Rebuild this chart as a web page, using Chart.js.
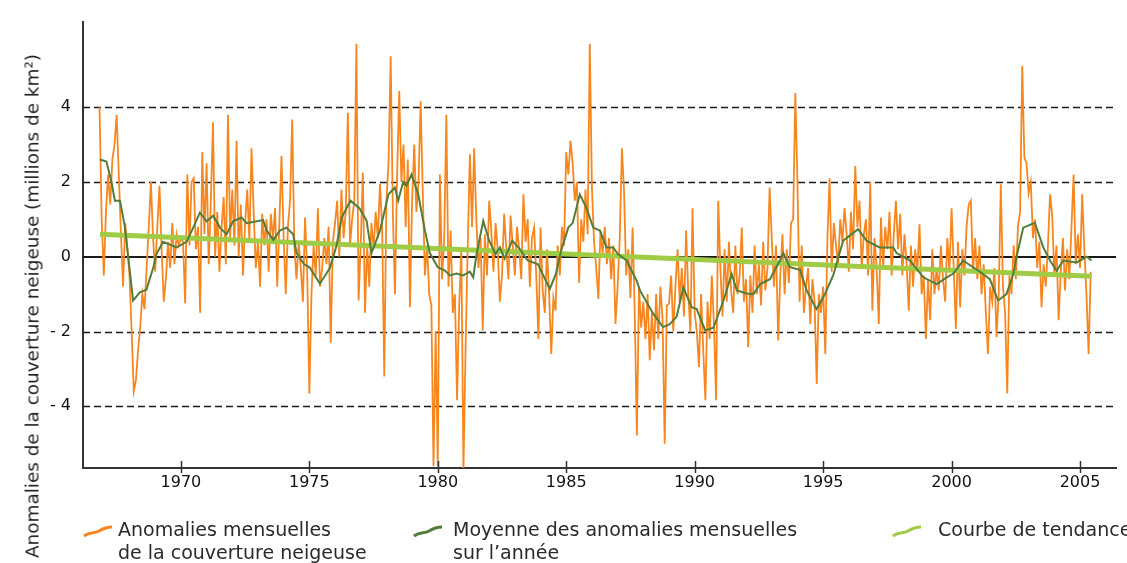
<!DOCTYPE html>
<html lang="fr">
<head>
<meta charset="utf-8">
<title>Anomalies de la couverture neigeuse</title>
<script src="https://cdn.jsdelivr.net/npm/chart.js@4.4.0/dist/chart.umd.min.js"></script>
<style>
  html, body { margin: 0; padding: 0; background: #fff; }
  #wrap { position: relative; width: 1127px; height: 563px; font-family: "DejaVu Sans", Verdana, sans-serif; color: #2a2a2a; }
  #chart { position: absolute; left: 0; top: 0; }
  #ytitle { position: absolute; left: 32px; top: 306px; transform: translate(-50%, -50%) rotate(-90deg); white-space: nowrap; font-size: 18.4px; color: #222; }
  .leg { position: absolute; top: 518px; font-size: 19px; line-height: 23px; white-space: nowrap; }
  .leg svg { position: absolute; top: 7px; }
</style>
</head>
<body>
<div id="wrap">
  <canvas id="chart" width="1127" height="563"></canvas>
  <div id="ytitle">Anomalies de la couverture neigeuse (millions de km²)</div>
  <div class="leg" style="left:118px">
    <svg width="30" height="13" style="left:-35px"><path d="M1,11 C7,6 11,9 16,6 S24,2 29,2" fill="none" stroke="#f7861f" stroke-width="3"/></svg>
    Anomalies mensuelles<br>de la couverture neigeuse</div>
  <div class="leg" style="left:453px">
    <svg width="30" height="13" style="left:-40px"><path d="M1,11 C7,6 11,9 16,6 S24,2 29,2" fill="none" stroke="#527d3a" stroke-width="3"/></svg>
    Moyenne des anomalies mensuelles<br>sur l’année</div>
  <div class="leg" style="left:938px">
    <svg width="30" height="13" style="left:-46px"><path d="M1,11 C7,6 11,9 16,6 S24,2 29,2" fill="none" stroke="#9fcb45" stroke-width="3"/></svg>
    Courbe de tendance</div>
</div>
<script>
// anomalies mensuelles, de novembre 1966 à juin 2005 (millions de km²)
const startYear = 1966;
const startMonth = 10; // 0 = janvier
const anom1966to1969 = [
  4.0, 1.0,
  -0.5, 1.2, 2.2, 1.4, 2.6, 3.0, 3.8, 2.2, 0.6, -0.8, 0.9, 0.2,
  -0.5, -2.0, -3.6, -3.3, -2.5, -1.9, -1.0, -1.4, -0.3, 0.8, 2.0, 0.5,
  -0.4, 0.8, 1.9, 0.2, -1.2, -0.6, 0.4, -0.3, 0.9, -0.2, 0.6, 0.3
];
const anom1970s = [
  0.5, 0.4, -1.25, 2.2, 0.3, 2.0, 2.1, 0.2, 0.8, -1.5, 2.8, 0.6,
  2.5, -0.2, 1.5, 3.6, 0.0, 1.2, -0.4, 0.8, 1.6, -0.2, 3.8, 0.5,
  1.8, 0.3, 3.1, 0.0, 1.4, -0.5, 0.9, 1.8, 0.4, 2.9, 1.2, -0.3,
  0.4, -0.8, 1.15, 0.3, 1.0, -0.4, 1.15, 0.5, 1.3, -0.8, 0.9, 2.7,
  0.5, -1.0, 0.8, 1.5, 3.67, 0.3, -0.6, 0.4, -0.3, -1.2, 1.05, -0.4,
  -3.66, -1.0, 0.3, -0.5, 1.3, -0.8, -0.3, 0.5, -0.2, 0.8, -2.3, 0.4,
  0.9, 1.5, 0.0, 1.8, 0.5, 1.2, 3.85, 0.3, 1.0, 1.5, 5.7, -1.17,
  0.3, 2.25, -1.5, 0.3, -0.8, 0.9, 0.2, 1.2, 0.5, 1.95, 0.8, -3.2,
  1.5, 2.5, 5.36, 1.2, -1.0, 2.2, 4.43, 2.0, 3.0, 0.8, 2.6, -1.35,
  1.5, 3.0, 1.2, 2.0, 4.16, 1.7, -0.5, 0.3, -1.0, -1.3, -5.6, -2.0
];
const anom1980s = [
  -5.6, 2.2, -0.6, 0.5, 3.8, -0.8, 0.7, -1.5, -1.0, -3.84, -1.3, 0.2,
  -5.7, -2.4, 0.3, 2.74, 0.8, 2.9, 1.0, -0.3, 0.5, -1.97, 0.6, -0.5,
  1.5, 0.7, -0.4, 0.9, 0.2, -1.2, -0.5, 1.15, 0.2, -0.6, 1.1, 0.3,
  -0.5, 0.8, 0.2, -0.6, 1.67, 0.4, 1.0, -0.8, 0.5, 0.78, -0.5, -2.2,
  0.78, -0.9, -1.5, 0.2, -1.0, -2.6, -1.1, -1.44, 0.3, -0.5, 0.8, 0.3,
  2.8, 2.2, 3.1, 2.5, 1.5, 2.0, -0.7, 1.0, 0.4, 1.8, 0.6, 5.7,
  1.85, 0.4, -0.3, -1.13, 0.7, 0.1, 0.8, -0.2, 0.5, -0.6, 0.3, -1.8,
  -0.8, 0.5, 2.9, 1.76, -0.5, 0.2, -1.1, 0.78, -1.5, -4.78, -0.8, -1.9,
  -1.2, -2.2, -1.0, -2.77, -1.5, -2.5, -1.0, -2.2, -0.8, -1.7, -5.0, -1.3,
  -1.26, -0.5, -2.0, -0.8, 0.2, -1.2, -0.3, -1.6, 0.7, -1.0, -2.0, 1.3
];
const anom1990s = [
  -1.5, -2.0, -2.95, -1.0, -2.5, -3.84, -1.2, -2.2, -0.5, -1.8, -3.84, 1.5,
  -0.3, -1.6, 0.2, -1.2, 0.4, -0.9, -1.5, 0.3, -1.0, -0.5, 0.78, -1.2,
  -0.6, -2.42, -0.5, -1.5, 0.3, -1.0, -0.2, -1.3, 0.4, -0.9, -0.3, 1.85,
  0.5, -0.8, 0.3, -2.24, -0.5, 0.6, -1.0, 0.2, -0.7, 0.9, 1.0, 4.38,
  2.0, -1.2, 0.3, -1.5, -0.8, -0.3, -1.8, -0.6, -1.2, -3.4, -1.0, -1.5,
  -0.8, -2.6, 0.5, 2.1, -0.4, 0.9, 0.3, -0.2, 1.0, 0.4, 1.3, 0.6,
  -0.4, 1.2, 0.2, 2.43, 0.8, 1.5, -0.3, 0.6, 1.0, -0.5, 2.0, -1.44,
  0.5, -0.3, -1.8, 1.05, -0.3, 0.8, 0.2, 1.2, -0.5, 0.6, 1.5, 0.2,
  1.15, -0.5, 0.6, -0.2, -1.44, 0.3, -0.8, 0.2, -0.4, 0.87, -1.0, -0.5,
  -2.2, -0.6, -1.7, 0.2, -1.0, -0.3, -0.9, 0.3, -0.6, -1.2, 0.5, -0.4
];
const anom2000s = [
  1.3, -0.3, -1.93, 0.4, -1.35, 0.2, -0.5, 0.8, 1.4, 1.5, -0.4, 0.5,
  -0.6, 0.3, -1.0, -0.2, -1.5, -2.6, -0.8, -1.2, -0.3, -2.15, -1.0, 1.94,
  -0.8, -1.5, -3.66, -0.5, -1.0, 0.3, -0.6, 0.8, 1.2, 5.1, 2.65, 2.5,
  1.7, 2.0, 0.5, 1.0, -0.3, 0.4, -1.35, -0.2, -0.8, 0.3, 1.67, 1.1,
  -0.5, 0.3, -1.7, -0.4, 0.5, -0.9, 0.2, -0.6, 0.8, 2.2, -0.2, 0.6,
  -0.3, 1.67, 0.2, -1.0, -2.6, -0.4
];

// moyenne sur 12 mois
const meanYears = [
  1966.85, 1967.1, 1967.3, 1967.43, 1967.63, 1967.82, 1967.95, 1968.14, 1968.4, 1968.66, 1968.92,
  1969.05, 1969.31, 1969.83, 1970.22, 1970.48, 1970.74, 1971.0, 1971.26, 1971.52, 1971.78,
  1972.03, 1972.36, 1972.56, 1972.95, 1973.2, 1973.34, 1973.6, 1973.85, 1974.11, 1974.37,
  1974.5, 1974.8, 1975.02, 1975.41, 1975.8, 1976.06, 1976.26, 1976.6, 1976.95, 1977.23,
  1977.42, 1977.75, 1978.08, 1978.33, 1978.46, 1978.65, 1978.78, 1978.98, 1979.24, 1979.5,
  1979.69, 1980.0, 1980.28, 1980.47, 1980.73, 1980.99, 1981.25, 1981.38, 1981.51, 1981.77,
  1982.0, 1982.25, 1982.42, 1982.6, 1982.9, 1983.2, 1983.5, 1983.9, 1984.36, 1984.6, 1984.8,
  1985.08, 1985.25, 1985.53, 1985.79, 1986.05, 1986.31, 1986.57, 1986.83, 1987.01, 1987.35,
  1987.74, 1987.87, 1988.39, 1988.77, 1989.03, 1989.3, 1989.56, 1989.88, 1990.08, 1990.41,
  1990.73, 1991.12, 1991.44, 1991.64, 1992.03, 1992.29, 1992.55, 1992.93, 1993.32, 1993.45,
  1993.71, 1994.1, 1994.36, 1994.74, 1995.07, 1995.39, 1995.78, 1996.36, 1996.69, 1997.2,
  1997.73, 1997.86, 1998.38, 1998.9, 1999.42, 1999.81, 2000.07, 2000.45, 2001.1, 2001.49,
  2001.81, 2002.14, 2002.4, 2002.53, 2002.79, 2003.24, 2003.57, 2003.83, 2004.09, 2004.35,
  2004.87, 2005.26, 2005.45
];
const meanValues = [
  2.6, 2.55, 2.0, 1.5, 1.5, 0.8, 0.0, -1.17, -0.95, -0.88, -0.3,
  0.07, 0.4, 0.25, 0.4, 0.78, 1.18, 0.95, 1.1, 0.78, 0.6,
  0.95, 1.05, 0.9, 0.95, 0.98, 0.7, 0.45, 0.7, 0.78, 0.6,
  0.1, -0.2, -0.29, -0.72, -0.3, 0.3, 1.05, 1.5, 1.3, 0.96,
  0.1, 0.7, 1.67, 1.85, 1.5, 2.0, 1.9, 2.2, 1.67, 0.7,
  0.1, -0.28, -0.37, -0.5, -0.45, -0.5, -0.4, -0.55, 0.07, 0.96,
  0.43, 0.07, 0.25, -0.05, 0.43, 0.2, -0.1, -0.2, -0.86, -0.45, 0.16,
  0.78, 0.9, 1.67, 1.3, 0.78, 0.7, 0.25, 0.25, 0.07, -0.1,
  -0.64, -0.9, -1.53, -1.88, -1.8, -1.6, -0.82, -1.35, -1.4, -1.97,
  -1.9, -1.17, -0.46, -0.9, -0.98, -1.0, -0.73, -0.6, -0.1, 0.1,
  -0.28, -0.35, -0.9, -1.4, -1.0, -0.5, 0.43, 0.74, 0.43, 0.25,
  0.25, 0.1, -0.1, -0.55, -0.73, -0.55, -0.45, -0.1, -0.4, -0.6,
  -1.17, -1.0, -0.46, 0.0, 0.78, 0.91, 0.25, -0.1, -0.37, -0.1,
  -0.15, 0.0, -0.1
];

// courbe de tendance
const trendYears = [1966.85, 2005.45];
const trendValues = [0.6, -0.52];

const yearTicks = [1970, 1975, 1980, 1985, 1990, 1995, 2000, 2005];
const valueTicks = [-4, -2, 0, 2, 4];
const dashedLevels = [-4, -2, 2, 4];

const monthly = anom1966to1969.concat(anom1970s, anom1980s, anom1990s, anom2000s);
const monthlyPoints = monthly.map((v, i) => ({ x: startYear + (startMonth + i) / 12, y: v }));
const meanPoints = meanYears.map((t, i) => ({ x: t, y: meanValues[i] }));
const trendPoints = trendYears.map((t, i) => ({ x: t, y: trendValues[i] }));

// grille pointillée, ligne du zéro et graduations des années
const snowGrid = {
  id: 'snowGrid',
  beforeDatasetsDraw(chart) {
    const { ctx, chartArea: a, scales: { y } } = chart;
    ctx.save();
    ctx.strokeStyle = '#1a1a1a';
    ctx.lineWidth = 1.3;
    ctx.setLineDash([7, 4]);
    dashedLevels.forEach(v => {
      const py = Math.round(y.getPixelForValue(v)) + 0.5;
      ctx.beginPath();
      ctx.moveTo(a.left, py);
      ctx.lineTo(a.right, py);
      ctx.stroke();
    });
    ctx.setLineDash([]);
    ctx.lineWidth = 1.8;
    const p0 = Math.round(y.getPixelForValue(0));
    ctx.beginPath();
    ctx.moveTo(a.left, p0);
    ctx.lineTo(a.right, p0);
    ctx.stroke();
    ctx.restore();
  },
  afterDraw(chart) {
    const { ctx, chartArea: a, scales: { x } } = chart;
    ctx.save();
    ctx.strokeStyle = '#333';
    ctx.lineWidth = 1.5;
    yearTicks.forEach(t => {
      const px = Math.round(x.getPixelForValue(t)) + 0.5;
      ctx.beginPath();
      ctx.moveTo(px, a.bottom - 7);
      ctx.lineTo(px, a.bottom + 5);
      ctx.stroke();
    });
    ctx.restore();
  }
};

const ctx = document.getElementById('chart').getContext('2d');
new Chart(ctx, {
  type: 'line',
  data: {
    datasets: [
      {
        label: 'Anomalies mensuelles de la couverture neigeuse',
        data: monthlyPoints,
        borderColor: '#f7861f',
        borderWidth: 1.8,
        pointRadius: 0,
        tension: 0,
        order: 3
      },
      {
        label: 'Courbe de tendance',
        data: trendPoints,
        borderColor: '#9fcb45',
        borderWidth: 5,
        pointRadius: 0,
        order: 2
      },
      {
        label: 'Moyenne des anomalies mensuelles sur l’année',
        data: meanPoints,
        borderColor: '#527d3a',
        borderWidth: 2,
        pointRadius: 0,
        tension: 0,
        order: 1
      }
    ]
  },
  options: {
    responsive: false,
    devicePixelRatio: 1,
    animation: false,
    layout: { padding: { top: 20, right: 11, left: 0, bottom: 0 } },
    plugins: {
      legend: { display: false },
      tooltip: { enabled: false }
    },
    scales: {
      x: {
        type: 'linear',
        min: 1966.19,
        max: 2006.4,
        afterBuildTicks: s => { s.ticks = yearTicks.map(v => ({ value: v })); },
        afterFit: s => { s.height = 95; },
        grid: { display: false, drawTicks: false },
        border: { display: true, color: '#333', width: 2 },
        ticks: {
          padding: 5,
          maxRotation: 0,
          color: '#111',
          font: { family: 'DejaVu Sans', size: 16 },
          callback: v => String(v)
        }
      },
      y: {
        min: -5.65,
        max: 6.29,
        afterBuildTicks: s => { s.ticks = valueTicks.map(v => ({ value: v })); },
        afterFit: s => { s.width = 83; },
        grid: { display: false, drawTicks: false },
        border: { display: true, color: '#333', width: 2 },
        ticks: {
          padding: 12,
          color: '#111',
          font: { family: 'DejaVu Sans', size: 16 },
          callback: v => (v < 0 ? '- ' + Math.abs(v) : String(v))
        }
      }
    }
  },
  plugins: [snowGrid]
});
</script>
</body>
</html>
